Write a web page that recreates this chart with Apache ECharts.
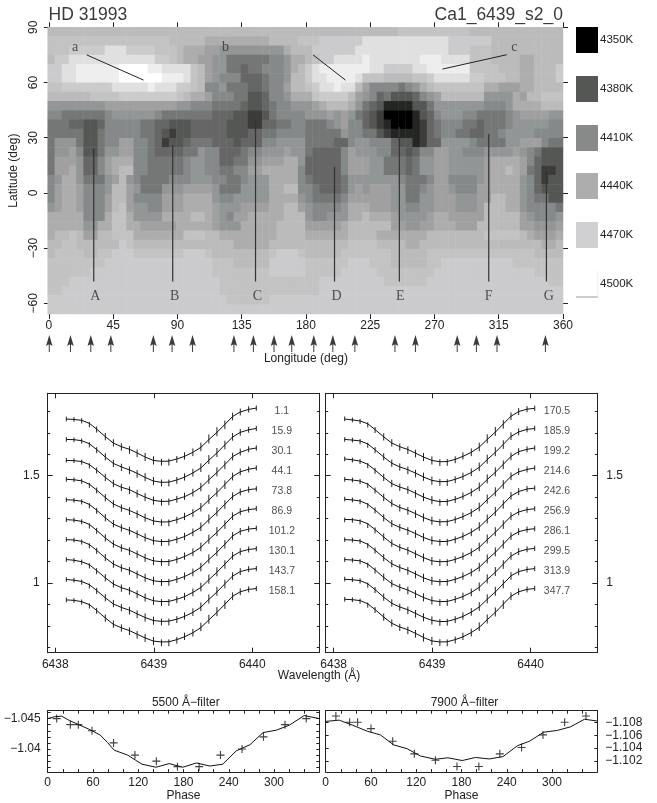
<!DOCTYPE html>
<html><head><meta charset="utf-8">
<style>html,body{margin:0;padding:0;background:#fff}#c{width:657px;height:803px}</style>
<script src="https://cdn.jsdelivr.net/npm/echarts@6/dist/echarts.min.js"></script>
</head><body><div id="c"></div>
<script>
// ---------- DATA ----------
const starName = 'HD 31993', lineName = 'Ca1_6439_s2_0';
// Temperature letters: A=4350K ... P=4500K, in 10 K steps. Run-length rows, top (85-90) to bottom.
const tempLetters = 'ABCDEFGHIJKLMNOP';
const tempRows = [
'K36 K13 L10 K13',
'L17 K5 J9 K4 L1 L2 M6 N12 M6 K10',
'L3 M5 N3 M4 L3 K1 J3 I2 H6 H3 J1 K2 K1 M3 M3 N13 M3 L3 K10',
'K1 M2 N12 M2 L1 K1 J2 I2 H2 F6 G2 H1 J2 K1 L1 M2 N4 O1 N7 O3 N1 N3 L3 K4 J2 K4',
'M2 N2 O2 O4 P4 O2 N2 N2 L1 K1 I1 H2 F2 E1 F2 G3 H1 J1 K1 M1 N1 O1 O6 N2 M4 N2 O6 L4 K3 J2 K3 M1',
'M2 N2 O2 O4 P6 O3 N1 L1 K1 I1 H1 G2 G1 E3 F1 G2 H1 K2 M1 N1 N1 O4 N1 L3 K4 L2 M1 N5 M2 L3 K2 J2 K3 M1',
'L2 M3 M4 N5 O1 N3 M2 L1 K1 G2 H1 F3 E2 F1 G2 I1 K2 L1 M1 N1 N1 O1 N2 K1 I1 G2 G2 F1 G1 H1 J1 K1 L7 J2 I3 J2 K1 K3',
'K6 L4 M8 L1 K1 J2 I1 G2 G1 F2 D2 E1 G2 H1 J2 J1 L1 M1 M3 K1 I1 H1 G1 E1 F1 D3 E1 G1 H1 I1 K6 H4 J1 I1 K2 L3',
'H8 I10 H2 G3 F2 F2 E1 D2 E1 F1 G2 H2 H1 I1 J1 K3 J1 H1 F1 E1 D1 B4 D1 D1 F1 H1 H6 G1 G2 H1 J1 J3 K2 K1',
'G2 F3 F3 G1 H6 G1 F7 E3 D2 C2 D1 F1 G2 G2 H1 H2 I1 H1 I1 H1 F1 E1 D1 C1 A4 B1 D1 E1 G1 H3 G2 F4 G1 H1 I4 H2',
'F3 E2 D2 E1 G1 G4 F2 E2 D3 E5 D3 C2 E2 F2 G2 F1 F2 G1 H1 I1 G2 E1 D1 C1 B1 A3 B1 C1 E1 F1 G3 F2 E1 F3 G1 H1 H4 G2',
'F4 F1 D2 F1 G1 G4 F1 F1 E1 D1 C1 D2 E5 D3 E2 F2 G2 G2 F3 F1 F1 H1 G2 F2 D1 C1 B4 C1 E1 F1 G2 F2 E2 F2 G1 H2 H2 G1 G3',
'F1 H3 F1 D2 F1 G2 I2 G2 F1 E1 C1 D2 E1 F2 F1 E2 E1 D1 E3 G2 H2 H2 F4 E2 G1 H2 G3 E1 D2 B1 C1 E2 H4 G1 F2 F2 H2 I1 I2 G1 F3',
'F1 H2 I1 G1 D2 F1 H1 H1 I2 G2 F1 E4 F2 H1 G2 E2 E1 F1 G2 H3 I1 H1 H1 F1 E4 G1 I1 H3 G2 E2 D1 E1 G2 I2 H2 G1 G2 H2 H2 I1 H1 G1 F1 D3',
'F1 I2 I1 H1 E2 G1 I1 J1 J2 G2 F1 F4 G1 H2 G2 E2 F2 H2 I3 J2 H1 E1 E4 G1 I3 H2 F3 E1 F1 H2 I2 H3 H2 I1 J4 I1 G1 E1 D2 D1',
'F1 I2 J1 H1 E2 G1 I1 J1 K2 G2 F1 F4 G1 H2 G2 F2 G2 I2 J3 J2 G1 E1 E4 G1 I3 H2 F3 E1 F1 H2 I2 H3 H2 I1 J2 K1 J1 I1 F1 E1 C2 D1',
'G1 H1 J2 H1 F3 H1 I1 K1 H1 G1 F4 G3 H3 G2 F1 F1 G1 H3 J2 J2 G1 F1 E1 E3 F1 H7 G1 F3 G1 I2 G4 H1 I1 J4 H1 G1 E1 C1 D2',
'G1 I1 J2 I1 G1 G2 H1 K2 I1 H1 F3 H3 I1 I2 I1 H1 F3 H1 H3 J2 K2 G1 G1 F1 E3 F1 H1 I1 H1 I3 H2 F2 G1 H1 I2 H1 G3 I1 I1 J4 H1 G1 E1 D1 D2',
'G1 I1 J2 I1 G3 I1 K2 I1 G4 I3 J4 H1 G2 H2 H3 J4 H1 G1 F1 F3 G1 I6 H2 F2 H2 I3 H3 I2 K2 J2 H1 G1 F2 D2',
'H1 I1 J2 I1 G3 I1 K1 L1 I1 H2 G2 I3 J4 I1 H3 I4 J2 K2 I1 H1 G4 H1 J2 J1 I3 H2 G2 H2 I3 H3 I1 K3 J2 H1 G4 F1',
'J2 J2 J1 G3 J1 L2 J1 H4 J4 K2 J1 I1 H1 G1 I2 J5 K3 H1 G1 G1 H3 J2 K1 J3 I1 H4 I1 J2 I5 K3 K2 I1 H1 G3 H1',
'J1 J2 J2 H2 J1 J1 L2 J2 I5 J5 I1 H3 J5 K4 I1 I4 J1 K6 I2 H2 I2 J3 I3 K6 I2 H3 I1',
'J1 K2 L1 K1 I2 K1 K1 L3 J7 L3 K2 J8 K4 J1 J5 K4 J2 J2 J2 J1 K8 L5 K1 J1 I3 J1',
'K2 L2 K4 K2 M1 L1 K11 K3 J5 K5 K5 K1 L4 K4 J2 K2 K12 K1 K2 J2 K1',
'K1 L4 K1 K1 L1 L1 M3 L7 M3 L1 K8 L1 M3 L1 K5 L1 L6 K5 L12 L3 K4',
'L6 L2 M15 L3 K5 M5 L2 L4 M3 L3 K5 L2 M10 L3 L4',
'L6 M17 L8 M5 L5 M5 L8 M14 L4',
'L3 M21 L12 L2 M9 L6 M17 L2',
'L2 M22 L12 L2 M34',
'M25 L6 M5 M36',
'M36 M36'
];
const mapColors = ['#000000','#242624','#3c3c3a','#555755','#666666','#757777','#858989','#929696','#a0a0a0','#adadad','#bbbbbb','#c3c3c3','#cbcbcd','#e0e0e0','#eeeeee','#ffffff'];
const legendLabels = ['4350K','4380K','4410K','4440K','4470K','4500K'];
const legendColors = ['#000000','#555755','#888a8a','#adadad','#d0d0d2','#ffffff'];

const phaseLeft  = ['1.1','15.9','30.1','44.1','73.8','86.9','101.2','130.1','143.7','158.1'];
const phaseRight = ['170.5','185.9','199.2','214.6','242.6','256.9','286.1','299.5','313.9','347.7'];

const spotNames = ['A','B','C','D','E','F','G'];
const spotLon   = [31.4,86.7,144.7,200,245.4,308,348.4];
const spotTop   = [24.2,26,39.6,14.2,35.8,32,12];
const spotBottom = -48.2;
const spotLabelLon = [32.5,88,146,201.5,246,308,350];
const spotLabelLat = -56;
const polarNames = ['a','b','c'];
const polarLon = [18.4,123.7,326];
const polarLat = [79,79,79];
const polarLines = [[[26.5,75],[66.3,61.3]],[[185,75],[207.7,61.3]],[[275.6,67.3],[320.6,75.1]]];

const wavelengths = [6438.112,6438.190,6438.268,6438.346,6438.420,6438.508,6438.590,6438.671,6438.753,6438.831,6438.912,6438.997,6439.078,6439.153,6439.234,6439.312,6439.397,6439.478,6439.559,6439.641,6439.722,6439.800,6439.878,6439.963,6440.041];
const modelLeft = [
[1.764,1.762,1.758,1.744,1.717,1.682,1.652,1.635,1.623,1.606,1.587,1.571,1.567,1.568,1.578,1.590,1.609,1.632,1.668,1.702,1.739,1.776,1.797,1.809,1.815],
[1.669,1.668,1.663,1.649,1.622,1.587,1.557,1.541,1.527,1.511,1.492,1.475,1.469,1.470,1.480,1.493,1.513,1.536,1.572,1.606,1.644,1.680,1.702,1.714,1.720],
[1.571,1.570,1.566,1.552,1.526,1.492,1.463,1.446,1.435,1.417,1.400,1.385,1.380,1.381,1.391,1.402,1.421,1.445,1.481,1.515,1.552,1.589,1.609,1.623,1.629],
[1.483,1.481,1.476,1.460,1.433,1.398,1.368,1.351,1.338,1.322,1.304,1.289,1.284,1.285,1.295,1.308,1.327,1.351,1.387,1.421,1.459,1.496,1.518,1.530,1.536],
[1.388,1.386,1.381,1.366,1.339,1.304,1.274,1.258,1.245,1.229,1.211,1.197,1.193,1.194,1.204,1.216,1.236,1.259,1.295,1.329,1.367,1.403,1.424,1.435,1.439],
[1.295,1.293,1.287,1.273,1.245,1.210,1.181,1.164,1.152,1.135,1.117,1.103,1.099,1.100,1.110,1.123,1.142,1.166,1.202,1.236,1.274,1.311,1.332,1.342,1.346],
[1.202,1.200,1.194,1.179,1.152,1.117,1.088,1.071,1.059,1.042,1.024,1.010,1.006,1.007,1.017,1.030,1.049,1.073,1.109,1.143,1.181,1.219,1.241,1.251,1.255],
[1.109,1.106,1.099,1.085,1.058,1.024,.995,.978,.966,.949,.931,.917,.913,.914,.924,.936,.956,.979,1.015,1.050,1.088,1.125,1.146,1.156,1.160],
[1.016,1.013,1.007,.992,.965,.931,.902,.886,.873,.856,.839,.825,.821,.822,.831,.844,.863,.887,.923,.958,.996,1.032,1.053,1.063,1.067],
[.921,.919,.913,.899,.872,.837,.807,.791,.778,.761,.744,.729,.725,.726,.736,.749,.768,.792,.828,.863,.901,.938,.959,.970,.974]
];
const modelRight = [
[1.764,1.760,1.755,1.742,1.715,1.681,1.652,1.635,1.622,1.605,1.587,1.571,1.565,1.566,1.576,1.590,1.609,1.633,1.669,1.703,1.741,1.777,1.799,1.810,1.814],
[1.669,1.666,1.662,1.648,1.621,1.587,1.558,1.541,1.528,1.512,1.494,1.478,1.472,1.473,1.483,1.496,1.515,1.539,1.575,1.609,1.646,1.683,1.704,1.716,1.720],
[1.578,1.574,1.568,1.553,1.526,1.492,1.463,1.447,1.435,1.418,1.400,1.386,1.379,1.380,1.390,1.403,1.422,1.446,1.482,1.516,1.553,1.590,1.612,1.623,1.629],
[1.483,1.480,1.475,1.460,1.433,1.399,1.370,1.352,1.339,1.323,1.305,1.290,1.285,1.286,1.296,1.309,1.328,1.352,1.388,1.422,1.460,1.497,1.518,1.529,1.536],
[1.390,1.387,1.382,1.367,1.340,1.305,1.276,1.259,1.246,1.230,1.212,1.198,1.193,1.194,1.204,1.217,1.236,1.260,1.296,1.330,1.368,1.405,1.426,1.438,1.442],
[1.296,1.295,1.290,1.276,1.249,1.214,1.184,1.166,1.153,1.136,1.118,1.103,1.099,1.100,1.110,1.123,1.142,1.166,1.202,1.236,1.274,1.311,1.331,1.342,1.346],
[1.202,1.200,1.196,1.180,1.153,1.118,1.089,1.072,1.059,1.042,1.024,1.010,1.006,1.007,1.017,1.030,1.049,1.073,1.109,1.143,1.181,1.218,1.239,1.249,1.253],
[1.109,1.107,1.103,1.088,1.061,1.026,.997,.980,.967,.950,.932,.918,.913,.914,.924,.937,.956,.980,1.016,1.050,1.088,1.125,1.146,1.157,1.161],
[1.017,1.015,1.011,.996,.969,.934,.905,.888,.875,.858,.840,.826,.820,.821,.831,.844,.864,.888,.924,.958,.996,1.033,1.053,1.063,1.067],
[.924,.922,.918,.903,.876,.841,.812,.795,.782,.765,.746,.730,.725,.726,.736,.749,.769,.793,.829,.863,.901,.938,.959,.970,.974]
];
// Observed tick centres relative to the drawn profile, in 0.001 units, read per spectrum.
const residLeft = [
[0,0,-2,-6,-2,0,1,-1,-3,-2,0,0,-4,-5,-2,2,0,2,3,3,-2,0,0,0,0],
[0,-1,-2,-5,-3,1,0,-2,-2,-3,1,0,-3,-4,-2,1,1,1,3,2,-1,1,0,0,0],
[1,0,-3,-6,-2,0,1,-1,-3,-1,0,-1,-4,-3,-1,2,0,2,2,3,-2,0,1,0,0],
[0,0,-2,-5,-2,-1,1,-2,-3,-2,0,0,-3,-5,-2,2,-1,2,3,2,-1,0,0,-1,0],
[0,-1,-3,-6,-3,0,2,-1,-2,-2,1,0,-4,-4,-3,1,0,3,3,3,-2,1,0,0,0],
[0,0,-2,-7,-2,0,1,-1,-4,-2,0,-1,-3,-5,-2,2,1,2,2,3,-2,0,0,0,1],
[1,0,-3,-6,-2,1,0,-1,-3,-3,0,0,-4,-4,-1,2,0,1,3,3,-1,0,-1,0,0],
[0,-1,-2,-5,-3,0,1,-2,-3,-2,1,0,-4,-5,-2,1,0,2,3,2,-2,1,0,0,0],
[0,0,-3,-6,-2,0,2,-1,-2,-2,0,-1,-3,-4,-2,2,1,2,2,3,-1,0,0,1,0],
[0,-1,-2,-6,-2,-1,1,-1,-3,-3,0,0,-4,-5,-3,2,0,3,3,3,-2,0,0,0,0]
];
const residRight = [
[1,0,-2,-5,-2,0,1,-2,-3,-2,0,0,-4,-4,-2,2,0,1,3,3,-2,0,0,0,0],
[0,0,-3,-6,-2,1,0,-1,-3,-2,1,-1,-3,-5,-2,1,1,2,2,3,-1,1,0,0,1],
[0,-1,-2,-6,-3,0,1,-1,-2,-3,0,0,-4,-4,-1,2,0,2,3,2,-2,0,0,0,0],
[0,0,-2,-5,-2,0,2,-2,-3,-2,0,0,-3,-5,-2,2,-1,2,3,3,-1,0,1,0,0],
[1,0,-3,-6,-2,-1,1,-1,-4,-2,1,0,-4,-4,-3,1,0,3,2,3,-2,1,0,0,0],
[-2,-3,-5,-8,-4,0,1,-1,-3,-2,0,-1,-4,-5,-2,2,1,2,3,3,-2,0,0,-1,0],
[0,0,-2,-6,-2,0,1,-2,-3,-3,0,0,-3,-4,-2,2,0,1,3,2,-1,0,0,0,0],
[0,-1,-3,-5,-3,1,0,-1,-2,-2,1,0,-4,-5,-1,1,0,2,3,3,-2,1,0,0,0],
[1,0,-2,-6,-2,0,2,-1,-3,-2,0,-1,-4,-4,-2,2,1,2,2,3,-1,0,-1,0,0],
[0,0,-3,-6,-2,0,1,-2,-3,-2,0,0,-3,-5,-2,2,0,3,3,2,-2,0,0,0,1]
];
const tickHalf = [.011,.011,.012,.012,.014,.017,.017,.017,.018,.018,.019,.019,.016,.016,.016,.017,.018,.020,.021,.021,.020,.018,.016,.014,.012];

const vLineLon = [0,8.8,18.5,28.7,41,54,69.5,79,88.2,106,116,125,143.5,161,179,197,215,232,250,268,285.5,303,320,340,360];
const vLine = [-1.0450,-1.0453,-1.0454,-1.0447,-1.0440,-1.0433,-1.0423,-1.0411,-1.0398,-1.0390,-1.0382,-1.0375,-1.0370,-1.0376,-1.0370,-1.0377,-1.0372,-1.0375,-1.0397,-1.0407,-1.0427,-1.0431,-1.0439,-1.0455,-1.0450];
const vObsPhase = [11.9,30,40.6,58.7,87.3,115.6,144,172,200.7,229,257.6,286,314.5,342.7];
const vObs = [-1.0450,-1.0440,-1.0440,-1.0430,-1.0410,-1.0390,-1.0380,-1.0371,-1.0371,-1.0390,-1.0400,-1.0420,-1.0440,-1.0450];
const iLineLon = [0,18,36,55.6,72.4,90,108,125.5,145.4,162,181,198.5,217,235,254,270,289,307,324.6,343,360];
const iLine = [-1.10814,-1.10833,-1.10753,-1.1066,-1.10605,-1.10451,-1.10391,-1.10279,-1.10228,-1.10251,-1.10209,-1.10256,-1.10233,-1.1027,-1.10437,-1.10507,-1.10647,-1.10674,-1.1073,-1.10847,-1.10819];
const iObsPhase = [13.5,31.7,42.3,60,88.8,117.5,145.4,174,203,230.8,259.6,288,316.7,345];
const iObs = [-1.10898,-1.108,-1.108,-1.10702,-1.10507,-1.10312,-1.10214,-1.10116,-1.10116,-1.10312,-1.1041,-1.10605,-1.108,-1.10898];

// Tick lists
const lonTicks = [0,45,90,135,180,225,270,315,360];
const latTicks = [90,60,30,0,-30,-60];
const waveTicks = [6438,6439,6440];
const depthMajor = [1,1.5];
const depthMinor = [.7,.8,.9,1.1,1.2,1.3,1.4,1.6,1.7,1.8];
const phaseLabels = [0,60,120,180,240,300];
const phaseTicks = [0,20,40,60,80,100,120,140,160,180,200,220,240,260,280,300,320,340];
const vTicks = [-1.046,-1.045,-1.044,-1.043,-1.042,-1.041,-1.04,-1.039,-1.038,-1.037];
const vLabels = [-1.045,-1.04];
const iTicks = [-1.108,-1.106,-1.104,-1.102];

// ---------- BUILD ----------
const INK = '#222222', TEXT = '#222222', FONT = '"Liberation Sans", Arial, sans-serif', SERIF = '"Liberation Serif", serif';
const grids = [], xAxes = [], yAxes = [], series = [];
const fmt = v => String(v).replace('-', '\u2212');
function axisOf(g, pos, o, lim, ticks, labels, extra) {
  return Object.assign({
    type:'value', gridIndex:g, position:pos, min:lim[0], max:lim[1], inverse:!!extra.inverse,
    axisLine:{show:!!o.line, onZero:false, lineStyle:{color:INK,width:1}},
    axisTick:{show:true, inside:!!o.inside, length:o.len, customValues:ticks, lineStyle:{color:INK,width:1}},
    axisLabel: labels ? {show:true, customValues:labels, formatter:fmt, color:TEXT, fontFamily:FONT, fontSize:extra.fontSize||12, margin:extra.margin, rotate:extra.rotate||0} : {show:false},
    splitLine:{show:false}
  }, extra.name ? {name:extra.name, nameLocation:'middle', nameGap:extra.nameGap, nameRotate:extra.nameRotate, nameTextStyle:{color:TEXT,fontFamily:FONT,fontSize:12}} : {});
}
function box(rect, o) {
  const g = grids.length;
  grids.push({left:rect[0],top:rect[1],width:rect[2],height:rect[3]});
  const xi = xAxes.length, yi = yAxes.length;
  xAxes.push(axisOf(g,'bottom',o,o.xr,o.xT,o.xL,o.xE||{}));
  xAxes.push(axisOf(g,'top',o,o.xr,o.xT,null,{}));
  yAxes.push(axisOf(g,'left',o,o.yr,o.yT,o.yL,o.yE||{inverse:o.inverse}));
  yAxes.push(axisOf(g,'right',o,o.yr,o.yT,o.yR,o.yRE||{inverse:o.inverse}));
  return {xi, yi};
}

// --- map ---
const mapRect = [47.7,27.3,515.3,286.7];
const mapG = grids.length;
grids.push({left:mapRect[0],top:mapRect[1],width:mapRect[2],height:mapRect[3]});
const lonCells = Array.from({length:72},(_,i)=>String(i));
const latCells = tempRows.map((_,i)=>String(i));
const cellX = xAxes.length, cellY = yAxes.length;
xAxes.push({type:'category',gridIndex:mapG,data:lonCells,show:false});
yAxes.push({type:'category',gridIndex:mapG,data:latCells,inverse:true,show:false});
const cells = [];
tempRows.forEach((row,r)=>{
  let c = 0;
  row.split(' ').forEach(tok=>{
    const t = 4350 + 10*tempLetters.indexOf(tok[0]);
    for (let n=+tok.slice(1); n>0; n--) cells.push([c++, r, t]);
  });
});
series.push({type:'heatmap',xAxisIndex:cellX,yAxisIndex:cellY,data:cells,z:1,progressive:0,emphasis:{disabled:true},silent:true});

const m = box(mapRect,{xr:[0,360],yr:[-65.8,90],xT:lonTicks,yT:latTicks,xL:lonTicks,yL:latTicks,len:5,line:false,
  xE:{margin:6,name:'Longitude (deg)',nameGap:39},
  yE:{margin:9,rotate:90,name:'Latitude (deg)',nameGap:19,nameRotate:90}});
const onMap = {xAxisIndex:m.xi,yAxisIndex:m.yi};
spotNames.forEach((n,i)=>{
  series.push(Object.assign({type:'line',z:5,silent:true,showSymbol:false,lineStyle:{color:'#333',width:1.2},
    data:[[spotLon[i],spotBottom],[spotLon[i],spotTop[i]]]},onMap));
});
polarLines.forEach(l=>series.push(Object.assign({type:'line',z:5,silent:true,showSymbol:false,lineStyle:{color:'#222',width:1},data:l},onMap)));
const letterLabel = {show:true,position:'inside',formatter:p=>p.name,fontFamily:SERIF,fontSize:14,color:'#2e2e2e'};
series.push(Object.assign({type:'scatter',z:6,silent:true,symbolSize:1,itemStyle:{color:'transparent'},label:letterLabel,
  data:spotNames.map((n,i)=>({name:n,value:[spotLabelLon[i],spotLabelLat]}))
   .concat(polarNames.map((n,i)=>({name:n,value:[polarLon[i],polarLat[i]]})))},onMap));

// --- arrows at observed phases ---
const arrowG = grids.length;
grids.push({left:mapRect[0],top:335,width:mapRect[2],height:17});
const ax = xAxes.length, ay = yAxes.length;
xAxes.push({type:'value',gridIndex:arrowG,min:0,max:360,show:false});
yAxes.push({type:'value',gridIndex:arrowG,min:0,max:1,show:false});
series.push({type:'scatter',xAxisIndex:ax,yAxisIndex:ay,silent:true,z:5,
  symbol:'path://M3.25 0L6.5 11L3.25 9L0 11Z M2.75 9h1v8h-1z',symbolSize:[6.5,17],itemStyle:{color:'#0a0a0a'},
  data:phaseLeft.concat(phaseRight).map(p=>[+p,.5])});

// --- line profiles ---
function profiles(rect, waveMin, model, resid, phases, yLabelSide, labelWave) {
  const waveMax = waveMin + rect[2]/98.5, yr = [.675,1.884];
  const b = box(rect,{xr:[waveMin,waveMax],yr,xT:waveTicks,yT:depthMajor,xL:waveTicks,
    yL:yLabelSide==='left'?depthMajor:null,yR:yLabelSide==='right'?depthMajor:null,
    yE:{margin:8},yRE:{margin:9},xE:{margin:6},len:5,inside:true,line:true});
  box(rect,{xr:[waveMin,waveMax],yr,xT:[],yT:depthMinor,len:2.5,inside:true,line:false});
  const on = {xAxisIndex:b.xi,yAxisIndex:b.yi};
  model.forEach((curve,k)=>{
    series.push(Object.assign({type:'line',silent:true,z:4,showSymbol:false,lineStyle:{color:'#111',width:1},
      data:curve.map((v,i)=>[wavelengths[i],v])},on));
    series.push(Object.assign({type:'custom',silent:true,z:4,
      data:curve.map((v,i)=>[wavelengths[i],v+resid[k][i]/1000,tickHalf[i]]),
      encode:{x:0,y:1},
      renderItem:(params,api)=>{
        const a=api.coord([api.value(0),api.value(1)-api.value(2)]), b2=api.coord([api.value(0),api.value(1)+api.value(2)]);
        return {type:'line',shape:{x1:a[0],y1:a[1],x2:b2[0],y2:b2[1]},style:{stroke:'#222',lineWidth:1}};
      }},on));
  });
  series.push(Object.assign({type:'scatter',silent:true,z:6,symbolSize:1,itemStyle:{color:'transparent'},
    label:{show:true,position:'inside',formatter:p=>p.name,fontFamily:FONT,fontSize:10.5,color:TEXT},
    data:phases.map((p,k)=>({name:p,value:[labelWave,model[k][24]-.013]}))},on));
}
profiles([47.7,393.3,271.6,259.4],6437.923,modelLeft,residLeft,phaseLeft,'left',6440.30);
profiles([325.7,393.3,271.6,259.4],6437.919,modelRight,residRight,phaseRight,'right',6440.267);

// --- filter panels ---
const plusSymbol = 'path://M4.3 0h1.4v4.3h4.3v1.4H5.7v4.3H4.3V5.7H0V4.3h4.3z';
function filterPanel(rect, yr, yT, labels, side, lon, line, px, obs) {
  const b = box(rect,{xr:[0,360],yr,xT:phaseTicks,yT,xL:phaseLabels,inverse:true,
    yL:side==='left'?labels:null,yR:side==='right'?labels:null,
    yE:{inverse:true,margin:7},yRE:{inverse:true,margin:8},
    xE:{margin:5,name:'Phase',nameGap:13},len:3,inside:true,line:true});
  const on = {xAxisIndex:b.xi,yAxisIndex:b.yi};
  series.push(Object.assign({type:'line',silent:true,z:4,showSymbol:false,lineStyle:{color:'#111',width:1},
    data:line.map((v,i)=>[lon[i],v])},on));
  series.push(Object.assign({type:'scatter',silent:true,z:5,symbol:plusSymbol,symbolSize:8,itemStyle:{color:'#111'},
    data:obs.map((v,i)=>[px[i],v])},on));
}
filterPanel([47.7,710.7,271.6,67],[-1.0463,-1.0362],vTicks,vLabels,'left',vLineLon,vLine,vObsPhase,vObs);
filterPanel([325.7,710.7,271.6,67],[-1.10979,-1.1003],iTicks,iTicks,'right',iLineLon,iLine,iObsPhase,iObs);

// --- free text and legend ---
const txt = (x,y,t,size,align,fam,fill) => ({type:'text',x,y,silent:true,style:{text:t,fill:fill||TEXT,font:`${size}px ${fam||FONT}`,textAlign:align||'left',textVerticalAlign:'middle'}});
const graphic = [
  txt(48.5,15,starName,17.5,'left',FONT,'#3a3a3a'),
  txt(563,15,lineName,17.5,'right',FONT,'#3a3a3a'),
  txt(319,675.5,'Wavelength (\u00c5)',12,'center'),
  txt(185.8,702.5,'5500 \u00c5\u2212filter',12,'center'),
  txt(464.5,702.5,'7900 \u00c5\u2212filter',12,'center')
];
const swatchTop = [27,76,125,173,222,271], swatchH = 26;
legendLabels.forEach((l,i)=>{
  graphic.push({type:'rect',silent:true,shape:{x:576,y:swatchTop[i],width:22,height:swatchH},style:{fill:legendColors[i]}});
  graphic.push(txt(600,swatchTop[i]+12.5,l,11.5));
});
graphic.push({type:'line',silent:true,shape:{x1:576,y1:297,x2:598,y2:297},style:{stroke:'#999',lineWidth:1}});
graphic.push({type:'line',silent:true,shape:{x1:598,y1:271,x2:598,y2:297},style:{stroke:'#eee',lineWidth:1}});

const chart = echarts.init(document.getElementById('c'),null,{renderer:'canvas'});
chart.setOption({
  animation:false, backgroundColor:'#fff',
  grid:grids, xAxis:xAxes, yAxis:yAxes, series, graphic,
  visualMap:{show:false,type:'continuous',seriesIndex:0,dimension:2,min:4350,max:4500,inRange:{color:mapColors}}
});
</script></body></html>
